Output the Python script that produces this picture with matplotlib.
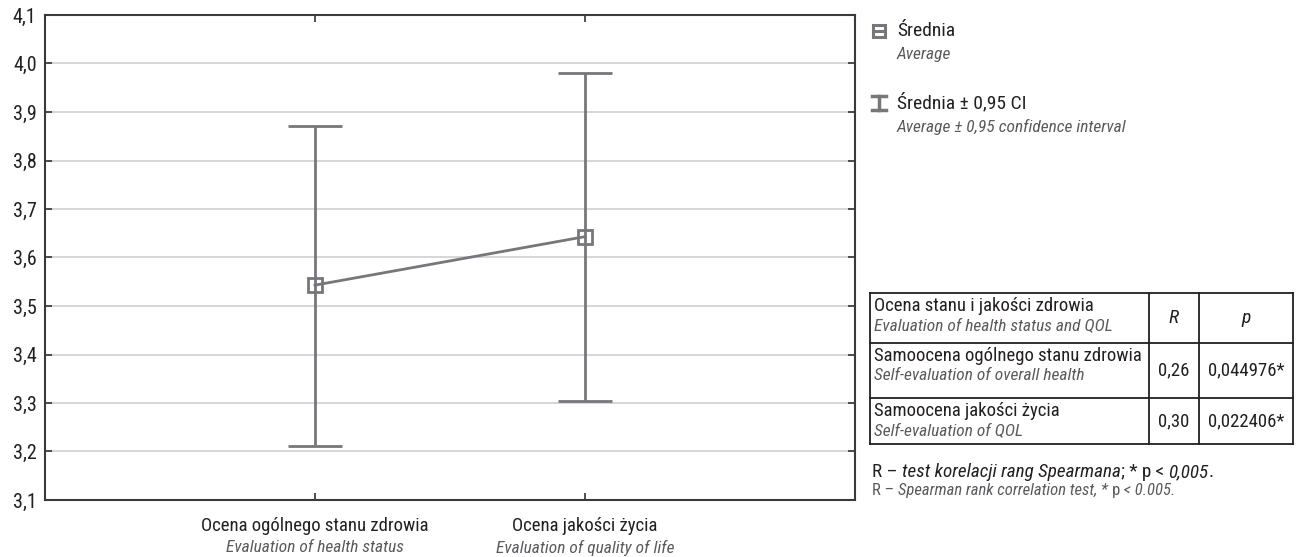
import matplotlib
matplotlib.use('Agg')
import matplotlib.pyplot as plt
from matplotlib import font_manager
import matplotlib.transforms as mtransforms

# dane
categories = ['Ocena ogólnego stanu zdrowia', 'Ocena jakości życia']
categories_en = ['Evaluation of health status', 'Evaluation of quality of life']
means = [3.543, 3.643]
ci_low = [3.212, 3.305]
ci_high = [3.872, 3.981]
yticks = [3.1, 3.2, 3.3, 3.4, 3.5, 3.6, 3.7, 3.8, 3.9, 4.0, 4.1]

table_rows_pl = ['Samoocena ogólnego stanu zdrowia', 'Samoocena jakości życia']
table_rows_en = ['Self-evaluation of overall health', 'Self-evaluation of QOL']
table_r = ['0,26', '0,30']
table_p = ['0,044976*', '0,022406*']

# wybór wąskiej czcionki
names = {f.name for f in font_manager.fontManager.ttflist}
family = 'DejaVu Sans'
for cand in ['Liberation Sans Narrow', 'Roboto Condensed', 'Open Sans Condensed', 'Liberation Sans']:
    if cand in names:
        family = cand
        break
plt.rcParams['font.family'] = [family, 'DejaVu Sans']

LINE = '#77777b'
TXT = '#231f20'
GREY = '#5a5a5e'

W, H = 1299, 557
fig = plt.figure(figsize=(W / 100, H / 100), dpi=100)

ax = fig.add_axes([45 / W, (H - 500) / H, 810 / W, 485 / H])
x = [1, 2]
yerr = [[m - l for m, l in zip(means, ci_low)], [h - m for m, h in zip(means, ci_high)]]
ax.errorbar(x, means, yerr=yerr, color=LINE, lw=2.0, elinewidth=2.0,
            capsize=19.5, capthick=2.3, marker='s', ms=10, mfc='none',
            mec=LINE, mew=2.0, zorder=5)

ax.set_xlim(0, 3)
ax.set_ylim(3.1, 4.1)
ax.set_yticks(yticks)
ax.set_yticklabels([f'{v:.1f}'.replace('.', ',') for v in yticks], fontsize=14.5, color=TXT)
ax.set_xticks(x)
ax.set_xticklabels(categories, fontsize=13.5, color=TXT)
ax.tick_params(direction='in', top=True, right=True, length=5, width=1.2, color='#333333', pad=6)
ax.tick_params(axis='x', pad=12)
ax.yaxis.grid(True, color='#cfcfcf', lw=1.2)
ax.set_axisbelow(True)
for s in ax.spines.values():
    s.set_color('#3a3a3a')
    s.set_linewidth(1.5)

trans = mtransforms.blended_transform_factory(ax.transData, ax.transAxes)
for xi, lab in zip(x, categories_en):
    ax.text(xi, -0.083, lab, transform=trans, ha='center', va='top',
            fontsize=12.5, style='italic', color=GREY)

# warstwa na legendę i tabelę (współrzędne w pikselach)
ov = fig.add_axes([0, 0, 1, 1])
ov.set_xlim(0, W)
ov.set_ylim(H, 0)
ov.set_axis_off()

# legenda
ov.plot([879], [31], marker='s', ms=9, mfc='white', mec=LINE, mew=2.2)
ov.plot([874, 884], [31, 31], color=LINE, lw=2.2)
ov.text(897, 31, 'Średnia', fontsize=14, color=TXT, va='center')
ov.text(897, 55, 'Average', fontsize=12.5, style='italic', color=GREY, va='center')
ov.plot([879, 879], [96, 110], color=LINE, lw=2.5)
ov.plot([872, 886], [96, 96], color=LINE, lw=2.5)
ov.plot([872, 886], [110, 110], color=LINE, lw=2.5)
ov.text(897, 103, 'Średnia ± 0,95 CI', fontsize=14, color=TXT, va='center')
ov.text(897, 127, 'Average ± 0,95 confidence interval', fontsize=12.5,
        style='italic', color=GREY, va='center')

# tabela
tx0, tx1, tx2, tx3 = 870, 1149, 1199, 1293
ty = [293, 343, 398, 444]
for yy in ty:
    ov.plot([tx0, tx3], [yy, yy], color=TXT, lw=1.3)
for xx in [tx0, tx1, tx2, tx3]:
    ov.plot([xx, xx], [ty[0], ty[-1]], color=TXT, lw=1.3)

ov.text(874, 306, 'Ocena stanu i jakości zdrowia', fontsize=13.5, color=TXT, va='center')
ov.text(874, 326, 'Evaluation of health status and QOL', fontsize=12.5,
        style='italic', color=GREY, va='center')
ov.text((tx1 + tx2) / 2, 318, 'R', fontsize=14, style='italic', color=TXT, ha='center', va='center')
ov.text((tx2 + tx3) / 2, 318, 'p', fontsize=14, style='italic', color=TXT, ha='center', va='center')
for i in range(len(table_rows_pl)):
    top = ty[i + 1]
    bot = ty[i + 2]
    ov.text(874, top + 13, table_rows_pl[i], fontsize=13.5, color=TXT, va='center')
    ov.text(874, top + 33, table_rows_en[i], fontsize=12.5, style='italic', color=GREY, va='center')
    mid = (top + bot) / 2
    ov.text((tx1 + tx2) / 2, mid, table_r[i], fontsize=13.5, color=TXT, ha='center', va='center')
    ov.text((tx2 + tx3) / 2, mid, table_p[i], fontsize=13.5, color=TXT, ha='center', va='center')

# przypis - kawałki tekstu łączone jeden za drugim
def chain(x0, y0, parts, size):
    prev = None
    for s, style, col in parts:
        if prev is None:
            prev = ov.text(x0, y0, s, fontsize=size, style=style, color=col, va='baseline')
        else:
            prev = ov.annotate(s, xy=(1, 0), xycoords=prev, fontsize=size, style=style,
                               color=col, va='bottom', ha='left')

chain(872, 477, [('R – ', 'normal', TXT), ('test korelacji rang Spearmana', 'italic', TXT),
                 ('; * p < ', 'normal', TXT), ('0,005', 'italic', TXT), ('.', 'normal', TXT)], 13.8)
chain(872, 495, [('R – ', 'normal', GREY), ('Spearman rank correlation test, * ', 'italic', GREY),
                 ('p', 'normal', GREY), (' < 0.005.', 'italic', GREY)], 12)

plt.savefig('out.png', dpi=100)
plt.close()
